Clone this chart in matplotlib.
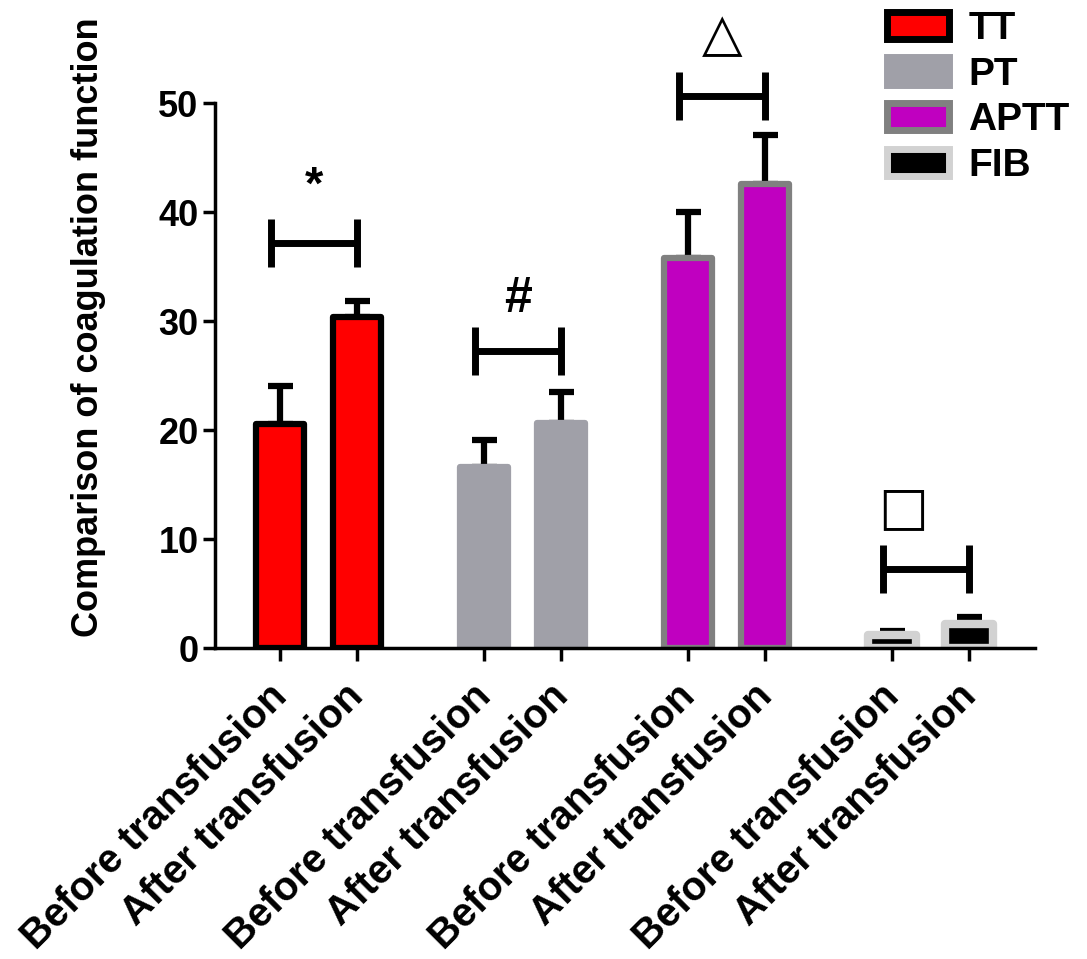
import numpy as np
import matplotlib
matplotlib.use("Agg")
import matplotlib.pyplot as plt
from matplotlib.patches import Patch

plt.rcParams['font.family'] = ['Liberation Sans', 'DejaVu Sans']
plt.rcParams['font.weight'] = 'bold'

# data
groups = ['TT', 'PT', 'APTT', 'FIB']
conditions = ['Before transfusion', 'After transfusion']
means = {'TT': [20.6, 30.4], 'PT': [16.6, 20.7], 'APTT': [35.8, 42.6], 'FIB': [1.25, 2.2]}
sds = {'TT': [3.5, 1.5], 'PT': [2.5, 2.8], 'APTT': [4.2, 4.5], 'FIB': [0.35, 0.65]}
sig_marks = ['*', '#', '\u25b3', '\u25a1']
sig_levels = [37.2, 27.3, 50.7, 7.3]
mark_levels = [42.3, 32.0, 56.3, 12.9]

fills = {'TT': '#ff0000', 'PT': '#a0a0a8', 'APTT': '#c000c0', 'FIB': '#000000'}
edges = {'TT': '#000000', 'PT': '#a0a0a8', 'APTT': '#808080', 'FIB': '#d2d2d2'}
edge_w = {'TT': 4.5, 'PT': 4.5, 'APTT': 4.5, 'FIB': 6}

fig = plt.figure(figsize=(10.87, 9.59), dpi=100)
ax = fig.add_axes([0.198, 0.324, 0.754, 0.5683])

gap = 2.65
width = 0.62
ticks, labels = [], []
for g, name in enumerate(groups):
    xs = np.array([0, 1]) + g * gap
    m = np.array(means[name])
    s = np.array(sds[name])
    ax.errorbar(xs, m, yerr=[np.zeros(2), s], fmt='none', ecolor='black',
                elinewidth=4.5, capsize=9, capthick=4.5, zorder=1)
    ax.bar(xs, m, width=width, color=fills[name], edgecolor=edges[name],
           linewidth=edge_w[name], joinstyle='round', zorder=2)
    ticks += list(xs)
    labels += conditions

    # significance bracket
    x0, x1 = xs[0] - 0.12, xs[1]
    y = sig_levels[g]
    ax.plot([x0, x1], [y, y], color='black', lw=5, clip_on=False, solid_capstyle='butt')
    for xx in (x0, x1):
        ax.plot([xx, xx], [y - 2.2, y + 2.2], color='black', lw=5, clip_on=False,
                solid_capstyle='butt')
    mx = (x0 + x1) / 2
    if g == 3:
        mx -= 0.3
    if sig_marks[g] == '*':
        ax.text(mx, mark_levels[g], '*', ha='center', va='center',
                fontsize=34, fontweight='bold')
    elif sig_marks[g] == '#':
        ax.text(mx, mark_levels[g], '#', ha='center', va='center',
                fontsize=36, fontweight='bold')
    else:
        ax.text(mx, mark_levels[g], sig_marks[g], ha='center', va='center',
                fontsize=38, fontweight='normal', family='DejaVu Sans')

ax.set_xlim(-0.84, 9.8)
ax.set_ylim(0, 50)
ax.set_yticks([0, 10, 20, 30, 40, 50])
ax.set_xticks(ticks)
ax.set_xticklabels([])
# rotated category labels, placed just under each tick
for xt, lab in zip(ticks, labels):
    ax.annotate(lab, xy=(xt, 0), xycoords=('data', 'axes fraction'),
                xytext=(0.6, -30), textcoords='offset points',
                rotation=45, ha='right', va='center', rotation_mode='anchor',
                fontsize=29, fontweight='bold', annotation_clip=False)
ax.tick_params(axis='y', labelsize=26, width=2.5, length=9, pad=3)
ax.tick_params(axis='x', width=2.5, length=9)
for sp in ('top', 'right'):
    ax.spines[sp].set_visible(False)
for sp in ('left', 'bottom'):
    ax.spines[sp].set_linewidth(2.5)
ax.set_ylabel('Comparison of coagulation function', fontsize=26, fontweight='bold')
ax.yaxis.set_label_coords(-0.133, 0.59)

handles = [Patch(facecolor=fills[n], edgecolor=edges[n], linewidth=5, joinstyle='round',
                 label=n) for n in groups]
fig.legend(handles=handles, loc='upper right', bbox_to_anchor=(1.009, 1.017), frameon=False,
           fontsize=28, handlelength=1.6, handleheight=0.7, handletextpad=0.5,
           labelspacing=0.25, borderaxespad=0.3)

fig.savefig('out.png', dpi=100)
